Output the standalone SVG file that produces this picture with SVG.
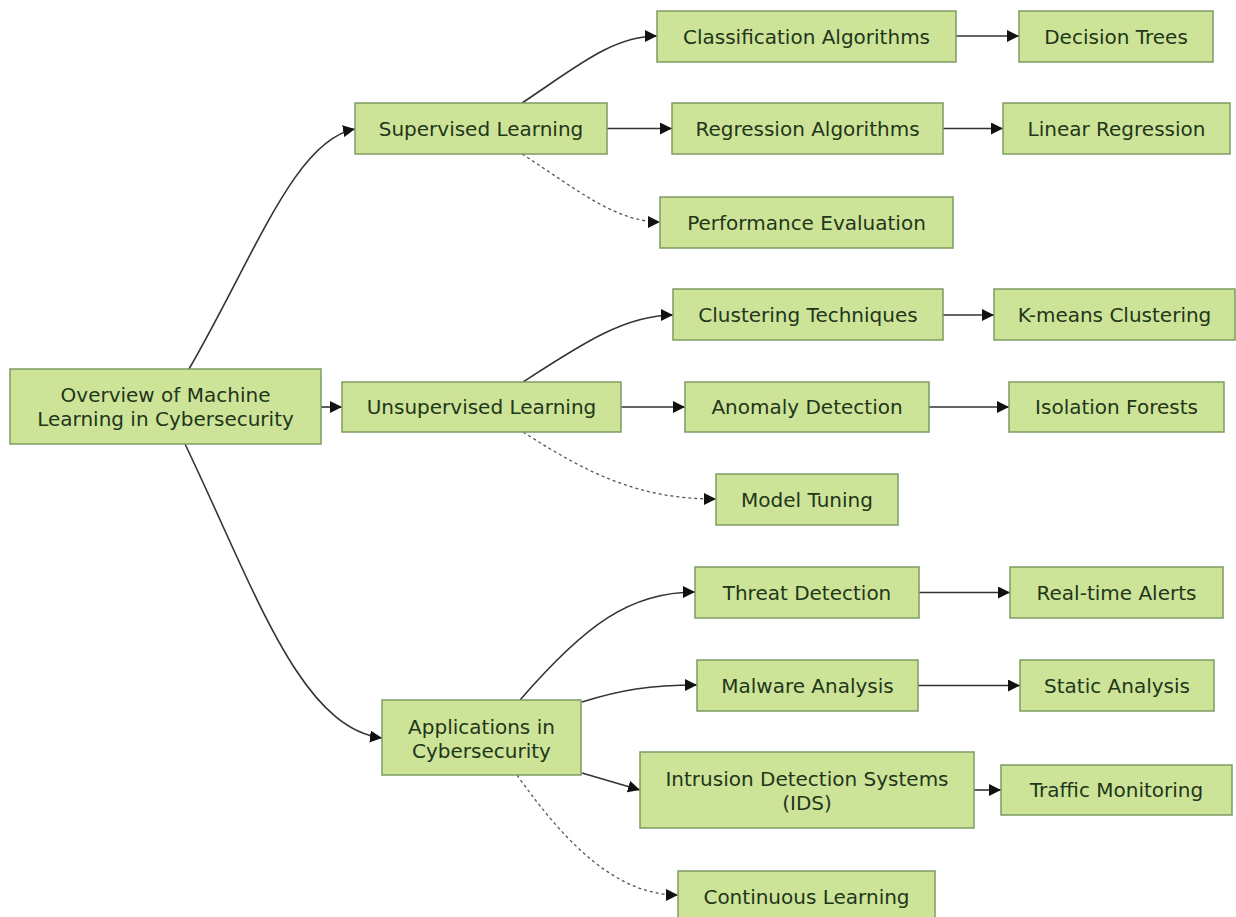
<svg xmlns="http://www.w3.org/2000/svg" width="1236" height="917" viewBox="0 0 1236 917">
<defs>
<style>
.n rect{fill:#cde498;stroke:#7d9a62;stroke-width:1.5}
.n text{font-family:"DejaVu Sans",Verdana,sans-serif;font-size:20px;fill:#22361a;text-anchor:middle}
.e{fill:none;stroke:#333;stroke-width:1.6;marker-end:url(#ah)}
.d{fill:none;stroke:#555;stroke-width:1.3;stroke-dasharray:3,3;marker-end:url(#ah)}
</style>
<marker id="ah" markerUnits="userSpaceOnUse" markerWidth="12" markerHeight="12" viewBox="0 0 10 10" refX="10" refY="5" orient="auto">
<path d="M0,0 L10,5 L0,10 z" fill="#111"/>
</marker>
</defs>
<rect width="1236" height="917" fill="#fff"/>
<g id="connectors">
<path class="e" d="M189,369 C255,255 295,140 355,129"/>
<path class="e" d="M321,407 L342,407"/>
<path class="e" d="M185,444 C255,590 300,728 382,738"/>
<path class="e" d="M522,103 C575,68 612,36 657,36"/>
<path class="e" d="M607,128.5 L672,128.5"/>
<path class="d" d="M522,154 C575,188 615,222 660,222"/>
<path class="e" d="M956,36 L1019,36"/>
<path class="e" d="M943,128.5 L1003,128.5"/>
<path class="e" d="M523,382 C580,345 625,315 673,315"/>
<path class="e" d="M621,407 L685,407"/>
<path class="d" d="M523,432 C590,475 640,499 716,499"/>
<path class="e" d="M943,315 L994,315"/>
<path class="e" d="M929,407 L1009,407"/>
<path class="e" d="M520,700 C585,625 630,592 695,592"/>
<path class="e" d="M582,702 C620,690 650,685 697,685"/>
<path class="e" d="M582,773 L640,790"/>
<path class="d" d="M517,775 C570,850 620,895 678,895"/>
<path class="e" d="M919,592.5 L1010,592.5"/>
<path class="e" d="M918,685.5 L1020,685.5"/>
<path class="e" d="M974,790 L1001,790"/>
</g>
<g id="root" class="n"><rect x="10" y="369" width="311" height="75"/><text x="165.5" y="402">Overview of Machine</text><text x="165.5" y="426">Learning in Cybersecurity</text></g>
<g id="sup" class="n"><rect x="355" y="103" width="252" height="51"/><text x="481" y="135.5">Supervised Learning</text></g>
<g id="cls" class="n"><rect x="657" y="11" width="299" height="51"/><text x="806.5" y="43.5">Classification Algorithms</text></g>
<g id="dt" class="n"><rect x="1019" y="11" width="194" height="51"/><text x="1116" y="43.5">Decision Trees</text></g>
<g id="reg" class="n"><rect x="672" y="103" width="271" height="51"/><text x="807.5" y="135.5">Regression Algorithms</text></g>
<g id="lr" class="n"><rect x="1003" y="103" width="227" height="51"/><text x="1116.5" y="135.5">Linear Regression</text></g>
<g id="pe" class="n"><rect x="660" y="197" width="293" height="51"/><text x="806.5" y="229.5">Performance Evaluation</text></g>
<g id="uns" class="n"><rect x="342" y="382" width="279" height="50"/><text x="481.5" y="414">Unsupervised Learning</text></g>
<g id="clu" class="n"><rect x="673" y="289" width="270" height="51"/><text x="808" y="321.5">Clustering Techniques</text></g>
<g id="km" class="n"><rect x="994" y="289" width="241" height="51"/><text x="1114.5" y="321.5">K-means Clustering</text></g>
<g id="ano" class="n"><rect x="685" y="382" width="244" height="50"/><text x="807" y="414">Anomaly Detection</text></g>
<g id="iso" class="n"><rect x="1009" y="382" width="215" height="50"/><text x="1116.5" y="414">Isolation Forests</text></g>
<g id="mt" class="n"><rect x="716" y="474" width="182" height="51"/><text x="807" y="506.5">Model Tuning</text></g>
<g id="app" class="n"><rect x="382" y="700" width="199" height="75"/><text x="481.5" y="734">Applications in</text><text x="481.5" y="758">Cybersecurity</text></g>
<g id="td" class="n"><rect x="695" y="567" width="224" height="51"/><text x="807" y="599.5">Threat Detection</text></g>
<g id="rta" class="n"><rect x="1010" y="567" width="213" height="51"/><text x="1116.5" y="599.5">Real-time Alerts</text></g>
<g id="ma" class="n"><rect x="697" y="660" width="221" height="51"/><text x="807.5" y="692.5">Malware Analysis</text></g>
<g id="sa" class="n"><rect x="1020" y="660" width="194" height="51"/><text x="1117" y="692.5">Static Analysis</text></g>
<g id="ids" class="n"><rect x="640" y="752" width="334" height="76"/><text x="807" y="786">Intrusion Detection Systems</text><text x="807" y="810">(IDS)</text></g>
<g id="tm" class="n"><rect x="1001" y="765" width="231" height="50"/><text x="1116.5" y="797">Traffic Monitoring</text></g>
<g id="cl" class="n"><rect x="678" y="871" width="257" height="52"/><text x="806.5" y="903.5">Continuous Learning</text></g>
</svg>
